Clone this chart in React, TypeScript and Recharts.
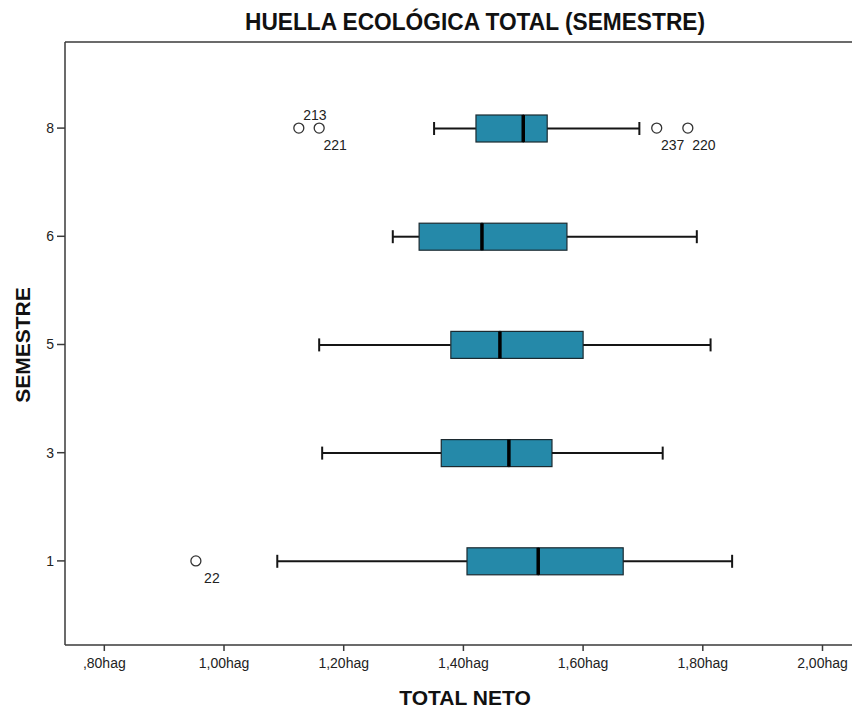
import { ComposedChart, Bar, Scatter, XAxis, YAxis } from "recharts";

// semesters from top to bottom (category axis lists the first item at the top)
const semesters = ["8", "6", "5", "3", "1"];
const whiskerLow = [1.351, 1.282, 1.159, 1.164, 1.089];
const q1 = [1.421, 1.326, 1.379, 1.363, 1.406];
const median = [1.5, 1.431, 1.461, 1.476, 1.525];
const q3 = [1.54, 1.573, 1.6, 1.548, 1.667];
const whiskerHigh = [1.694, 1.79, 1.813, 1.733, 1.849];

const outlierSemester = ["8", "8", "8", "8", "1"];
const outlierValue = [1.125, 1.159, 1.723, 1.775, 0.953];
const outlierCase = ["213", "221", "237", "220", "22"];
const outlierSide = ["up", "down", "down", "down", "down"];

const xTicks = [0.8, 1.0, 1.2, 1.4, 1.6, 1.8, 2.0];

const FONT = "'Liberation Sans', Arial, sans-serif";
const BOX_FILL = "#2589a9";
const INK = "#151515";
const AXIS = "#3a3a3a";

const boxData = semesters.map((sem, i) => ({
  sem,
  base: whiskerLow[i],
  lowWhisker: q1[i] - whiskerLow[i],
  lowerBox: median[i] - q1[i],
  upperBox: q3[i] - median[i],
  highWhisker: whiskerHigh[i] - q3[i],
}));

const outlierData = outlierValue.map((value, i) => ({
  sem: outlierSemester[i],
  value,
  label: outlierCase[i],
  side: outlierSide[i],
}));

const formatHag = (v: number) => {
  const s = v.toFixed(2).replace(".", ",");
  return (s.startsWith("0") ? s.slice(1) : s) + "hag";
};

const LowWhisker = (props: any) => {
  const { x, y, width, height } = props;
  const cy = y + height / 2;
  return (
    <g>
      <line x1={x} y1={cy} x2={x + width} y2={cy} stroke={INK} strokeWidth={2} />
      <line x1={x} y1={cy - 6.5} x2={x} y2={cy + 6.5} stroke={INK} strokeWidth={2} />
    </g>
  );
};

const HighWhisker = (props: any) => {
  const { x, y, width, height } = props;
  const cy = y + height / 2;
  return (
    <g>
      <line x1={x} y1={cy} x2={x + width} y2={cy} stroke={INK} strokeWidth={2} />
      <line x1={x + width} y1={cy - 6.5} x2={x + width} y2={cy + 6.5} stroke={INK} strokeWidth={2} />
    </g>
  );
};

const LowerBox = (props: any) => {
  const { x, y, width, height } = props;
  return <rect x={x} y={y} width={width} height={height} fill={BOX_FILL} stroke="#1c2a30" strokeWidth={1.2} />;
};

const UpperBox = (props: any) => {
  const { x, y, width, height } = props;
  return (
    <g>
      <rect x={x} y={y} width={width} height={height} fill={BOX_FILL} stroke="#1c2a30" strokeWidth={1.2} />
      <line x1={x} y1={y} x2={x} y2={y + height} stroke="#000" strokeWidth={3.5} />
    </g>
  );
};

const Outlier = (props: any) => {
  const { cx, cy, payload } = props;
  const up = payload.side === "up";
  return (
    <g>
      <circle cx={cx} cy={cy} r={5} fill="#fff" stroke="#333" strokeWidth={1.3} />
      <text
        x={cx + 16}
        y={up ? cy - 8 : cy + 22}
        textAnchor="middle"
        fontSize={14}
        fontFamily={FONT}
        fill="#222"
      >
        {payload.label}
      </text>
    </g>
  );
};

const App = () => {
  return (
    <div style={{ position: "absolute", left: 0, top: 0, width: 852, height: 708, background: "#fff" }}>
      <ComposedChart
        width={852}
        height={708}
        layout="vertical"
        data={boxData}
        margin={{ top: 42, right: 0, bottom: 33, left: 0 }}
        barSize={27}
      >
        <XAxis
          type="number"
          domain={[0.7343, 2.0493]}
          allowDataOverflow
          ticks={xTicks}
          interval={0}
          tickFormatter={formatHag}
          height={30}
          tickSize={6}
          tickMargin={7}
          axisLine={{ stroke: AXIS, strokeWidth: 1.5 }}
          tickLine={{ stroke: AXIS, strokeWidth: 1.5 }}
          tick={{ fill: "#222", fontSize: 14, fontFamily: FONT }}
        />
        <YAxis
          type="category"
          dataKey="sem"
          width={65}
          allowDuplicatedCategory={false}
          padding={{ top: 32, bottom: 30 }}
          tickSize={8}
          tickMargin={3}
          axisLine={{ stroke: AXIS, strokeWidth: 1.5 }}
          tickLine={{ stroke: AXIS, strokeWidth: 1.5 }}
          tick={{ fill: "#222", fontSize: 14, fontFamily: FONT }}
        />
        <Bar dataKey="base" stackId="box" fill="transparent" isAnimationActive={false} />
        <Bar dataKey="lowWhisker" stackId="box" shape={LowWhisker} isAnimationActive={false} />
        <Bar dataKey="lowerBox" stackId="box" shape={LowerBox} isAnimationActive={false} />
        <Bar dataKey="upperBox" stackId="box" shape={UpperBox} isAnimationActive={false} />
        <Bar dataKey="highWhisker" stackId="box" shape={HighWhisker} isAnimationActive={false} />
        <Scatter data={outlierData} dataKey="value" shape={Outlier} isAnimationActive={false} />
      </ComposedChart>
      <svg
        width={852}
        height={708}
        style={{ position: "absolute", left: 0, top: 0, pointerEvents: "none" }}
      >
        <line x1={65} y1={42} x2={852} y2={42} stroke={AXIS} strokeWidth={1.5} />
        <text
          x={475}
          y={30}
          textAnchor="middle"
          fontSize={24}
          fontWeight="bold"
          fontFamily={FONT}
          fill="#111"
          textLength={460}
          lengthAdjust="spacingAndGlyphs"
        >
          HUELLA ECOLÓGICA TOTAL (SEMESTRE)
        </text>
        <text x={465} y={705} textAnchor="middle" fontSize={21} fontWeight="bold" fontFamily={FONT} fill="#111">
          TOTAL NETO
        </text>
        <text
          x={0}
          y={0}
          transform="translate(30 345) rotate(-90)"
          textAnchor="middle"
          fontSize={21}
          fontWeight="bold"
          fontFamily={FONT}
          fill="#111"
        >
          SEMESTRE
        </text>
      </svg>
    </div>
  );
};

export default App;
